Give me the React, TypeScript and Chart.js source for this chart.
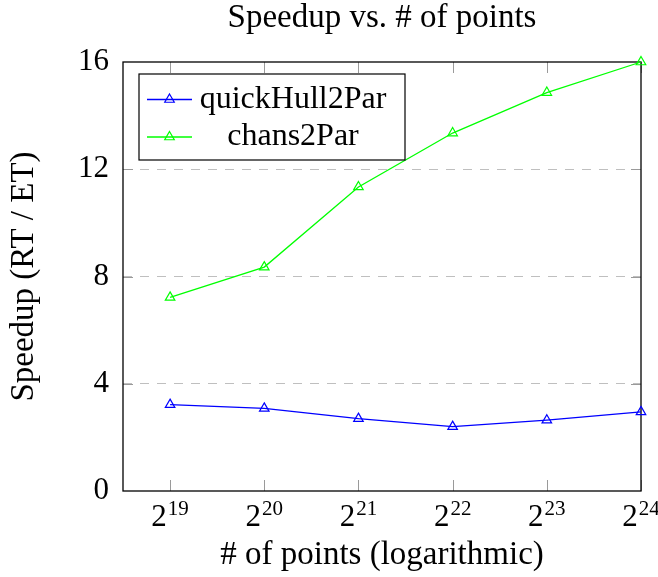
import React, { useEffect, useRef } from 'react';
import { Chart, registerables } from 'chart.js';

Chart.register(...registerables);

// ---- data ----
const X_EXPONENTS = [19, 20, 21, 22, 23, 24];
const X_TICK_BASE = '2';
const X_TICK_EXPONENT_LABELS = ['19', '20', '21', '22', '23', '24'];
const QUICKHULL_SPEEDUP = [3.22, 3.08, 2.7, 2.4, 2.64, 2.95];
const CHANS_SPEEDUP = [7.22, 8.35, 11.34, 13.35, 14.86, 16.0];
const Y_TICKS = [0, 4, 8, 12, 16];
const SERIES_LABELS = ['quickHull2Par', 'chans2Par'];
const SERIES_COLORS = ['#0000ff', '#00ff00'];
const TITLE = 'Speedup vs. # of points';
const X_TITLE = '# of points (logarithmic)';
const Y_TITLE = 'Speedup (RT / ET)';

const FONT = '"Liberation Serif", "DejaVu Serif", serif';
const FS = 31;
const FS_TITLE = 33;
const FS_LEGEND = 32;
const FS_SUP = 21;

function drawTriangle(ctx: CanvasRenderingContext2D, x: number, y: number, r: number) {
  let rad = 0;
  ctx.beginPath();
  ctx.moveTo(x + Math.sin(rad) * r, y - Math.cos(rad) * r);
  rad += (2 * Math.PI) / 3;
  ctx.lineTo(x + Math.sin(rad) * r, y - Math.cos(rad) * r);
  rad += (2 * Math.PI) / 3;
  ctx.lineTo(x + Math.sin(rad) * r, y - Math.cos(rad) * r);
  ctx.closePath();
  ctx.stroke();
}

const LABEL_SHIFT = -11;

const framePlugin = {
  id: 'pgfFrame',
  beforeDatasetsDraw(chart: any) {
    const { ctx, chartArea: a, scales } = chart;
    const xs = scales.x;
    const ys = scales.y;
    ctx.save();
    ctx.strokeStyle = '#9a9a9a';
    ctx.lineWidth = 1;
    ctx.beginPath();
    xs.ticks.forEach((t: any) => {
      const px = Math.round(xs.getPixelForValue(t.value)) + 0.5;
      ctx.moveTo(px, a.bottom);
      ctx.lineTo(px, a.bottom - 11);
      ctx.moveTo(px, a.top);
      ctx.lineTo(px, a.top + 11);
    });
    ys.ticks.forEach((t: any) => {
      if (t.value <= ys.min || t.value >= ys.max) return;
      const py = Math.round(ys.getPixelForValue(t.value)) + 0.5;
      ctx.moveTo(a.left, py);
      ctx.lineTo(a.left + 10, py);
      ctx.moveTo(a.right, py);
      ctx.lineTo(a.right - 10, py);
    });
    ctx.stroke();
    ctx.strokeStyle = '#000';
    ctx.lineWidth = 1.3;
    ctx.strokeRect(a.left, a.top, a.right - a.left, a.bottom - a.top);
    ctx.restore();
  },
  afterDraw(chart: any) {
    const { ctx, chartArea: a, scales } = chart;
    const xs = scales.x;
    ctx.save();
    // exponents of the x tick labels
    ctx.font = `${FS}px ${FONT}`;
    const wBase = ctx.measureText(X_TICK_BASE).width;
    const baseMid = a.bottom + 8 + (FS * 1.2) / 2;
    ctx.font = `${FS_SUP}px ${FONT}`;
    ctx.fillStyle = '#000';
    ctx.textAlign = 'left';
    ctx.textBaseline = 'middle';
    xs.ticks.forEach((t: any) => {
      const i = X_EXPONENTS.indexOf(Number(t.value));
      if (i < 0) return;
      const px = xs.getPixelForValue(t.value) + LABEL_SHIFT + wBase / 2 + 1;
      ctx.fillText(X_TICK_EXPONENT_LABELS[i], px, baseMid - 8);
    });

    // legend
    const bx = a.left + 16;
    const by = a.top + 12;
    const bw = 266;
    const bh = 86;
    ctx.fillStyle = '#fff';
    ctx.fillRect(bx, by, bw, bh);
    ctx.strokeStyle = '#000';
    ctx.lineWidth = 1.2;
    ctx.strokeRect(bx, by, bw, bh);
    const rows = [by + 25.5, by + 63];
    chart.data.datasets.forEach((ds: any, i: number) => {
      const ry = rows[i];
      ctx.strokeStyle = ds.borderColor;
      ctx.lineWidth = 1.3;
      ctx.beginPath();
      ctx.moveTo(bx + 8, ry);
      ctx.lineTo(bx + 53, ry);
      ctx.stroke();
      ctx.lineWidth = 1.2;
      drawTriangle(ctx, bx + 30.5, ry, 5.5);
      ctx.fillStyle = '#000';
      ctx.font = `${FS_LEGEND}px ${FONT}`;
      ctx.textAlign = 'center';
      ctx.textBaseline = 'middle';
      ctx.fillText(ds.label, bx + 154, ry);
    });
    ctx.restore();
  },
};

function makeDataset(label: string, values: number[], color: string) {
  return {
    label,
    data: X_EXPONENTS.map((x, i) => ({ x, y: values[i] })),
    borderColor: color,
    backgroundColor: color,
    borderWidth: 1.3,
    pointStyle: 'triangle',
    pointRadius: 5.5,
    pointBorderWidth: 1.2,
    pointBorderColor: color,
    pointBackgroundColor: 'rgba(255,255,255,0)',
    tension: 0,
    clip: false,
  };
}

export default function App() {
  const ref = useRef<HTMLCanvasElement>(null);

  useEffect(() => {
    if (!ref.current) return;
    const chart = new Chart(ref.current, {
      type: 'line',
      data: {
        datasets: [
          makeDataset(SERIES_LABELS[0], QUICKHULL_SPEEDUP, SERIES_COLORS[0]),
          makeDataset(SERIES_LABELS[1], CHANS_SPEEDUP, SERIES_COLORS[1]),
        ] as any,
      },
      options: {
        responsive: false,
        devicePixelRatio: 1,
        animation: false,
        layout: { padding: { left: 0, right: 17, top: 0, bottom: 0 } },
        plugins: {
          legend: { display: false },
          tooltip: { enabled: false },
          title: {
            display: true,
            text: TITLE,
            fullSize: false,
            color: '#000',
            font: { family: FONT, size: FS_TITLE, weight: 'normal' as any, lineHeight: 1.2 },
            padding: { top: -1, bottom: 23.4 },
          },
        },
        scales: {
          x: {
            type: 'linear',
            min: 18.5,
            max: 24,
            afterBuildTicks: (s: any) => {
              s.ticks = X_EXPONENTS.map((v) => ({ value: v }));
            },
            afterFit: (s: any) => {
              s.height = 86;
              s.paddingLeft = 0;
              s.paddingRight = 0;
            },
            grid: { display: false, drawTicks: false },
            border: { display: false },
            ticks: {
              autoSkip: false,
              maxRotation: 0,
              padding: 8,
              labelOffset: LABEL_SHIFT,
              color: '#000',
              font: { family: FONT, size: FS, lineHeight: 1.2 },
              callback: (v: any) => (X_EXPONENTS.indexOf(Number(v)) >= 0 ? X_TICK_BASE : ''),
            },
            title: {
              display: true,
              text: X_TITLE,
              color: '#000',
              font: { family: FONT, size: FS_TITLE, lineHeight: 1.2 },
              padding: { top: 0, bottom: 2 },
            },
          },
          y: {
            type: 'linear',
            min: Y_TICKS[0],
            max: Y_TICKS[Y_TICKS.length - 1],
            afterBuildTicks: (s: any) => {
              s.ticks = Y_TICKS.map((v) => ({ value: v }));
            },
            afterFit: (s: any) => {
              s.width = 123;
            },
            grid: {
              drawTicks: false,
              lineWidth: 1,
              color: (c: any) =>
                c.tick && c.tick.value > Y_TICKS[0] && c.tick.value < Y_TICKS[Y_TICKS.length - 1]
                  ? '#bfbfbf'
                  : 'rgba(0,0,0,0)',
            },
            border: { display: false, dash: [9, 8] },
            ticks: {
              padding: 14,
              color: '#000',
              font: { family: FONT, size: FS },
            },
            title: {
              display: true,
              text: Y_TITLE,
              color: '#000',
              font: { family: FONT, size: FS_TITLE, lineHeight: 1.2 },
              padding: { top: 5, bottom: 0 },
            },
          },
        },
      } as any,
      plugins: [framePlugin as any],
    });
    return () => chart.destroy();
  }, []);

  return (
    <div style={{ position: 'absolute', left: 0, top: 0, width: 658, height: 577, background: '#fff' }}>
      <canvas ref={ref} width={658} height={577} style={{ display: 'block', width: 658, height: 577 }} />
    </div>
  );
}
